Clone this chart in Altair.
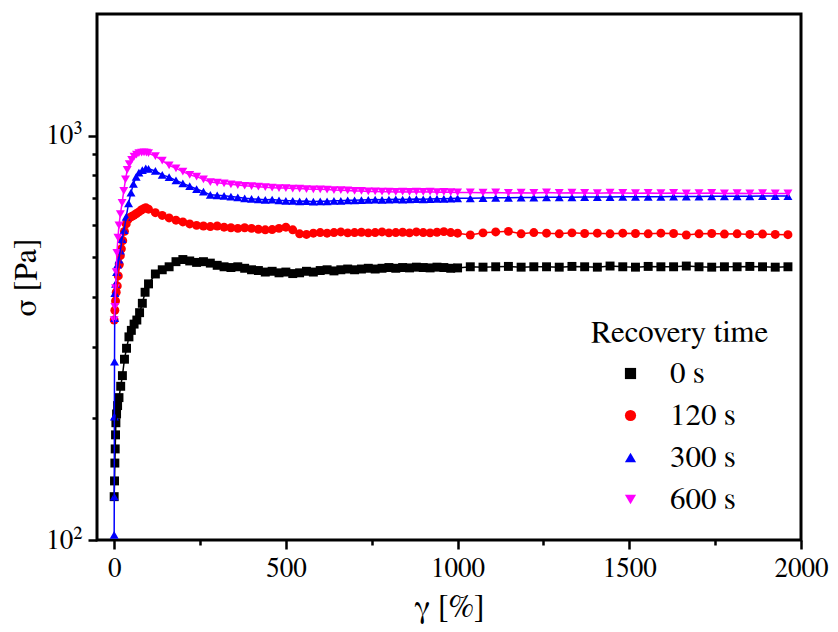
import altair as alt
import pandas as pd

# ---- data ----
series_order = ["0 s", "120 s", "300 s", "600 s"]
series_colors = ["#000000", "#ff0000", "#0000ff", "#ff00ff"]
series_shapes = ["square", "circle", "triangle-up", "triangle-down"]

gamma_mid = [100, 120, 140, 160, 180, 200, 220, 240, 260, 280, 300, 320, 340, 360, 380,
             400, 420, 440, 460, 480, 500, 520, 540, 560, 580, 600, 620, 640, 660, 680,
             700, 720, 740, 760, 780, 800, 820, 840, 860, 880, 900, 920, 940, 960, 980, 1000]
gamma_tail = [1037, 1074, 1111, 1148, 1185, 1222, 1259, 1296, 1333, 1370, 1407, 1444, 1481,
              1518, 1555, 1592, 1629, 1666, 1703, 1740, 1777, 1814, 1851, 1888, 1925, 1962]

# 0 s
g0_head = [0, 1, 2, 3, 4, 5, 7, 10, 14, 19, 24, 30, 36, 43, 50, 58, 66, 74, 82, 90]
s0_head = [128, 140, 155, 168, 182, 195, 205, 215, 225, 240, 255, 280, 298, 318, 330, 342, 350, 365, 385, 410]
s0_mid = [430, 455, 466, 474, 488, 494, 490, 486, 488, 484, 478, 474, 472, 474, 470,
          466, 464, 460, 462, 458, 460, 456, 458, 462, 460, 464, 466, 463, 466, 468,
          466, 468, 470, 468, 470, 472, 470, 472, 471, 473, 472, 471, 473, 472, 470, 471]
s0_tail = [474, 473, 474, 475, 473, 474, 474, 473, 475, 474, 473, 476, 474,
           473, 475, 474, 474, 476, 474, 473, 474, 474, 475, 474, 473, 474]

# 120 s
g120_head = [0, 2, 4, 6, 9, 12, 15, 18, 21, 25, 30, 35, 40, 46, 52, 58, 65, 72, 79, 86, 92]
s120_head = [350, 370, 390, 410, 425, 450, 480, 505, 525, 550, 580, 605, 620, 628, 632, 636, 642, 648, 655, 660, 664]
s120_mid = [658, 645, 635, 626, 618, 612, 605, 600, 598, 596, 598, 594, 592, 590, 592,
            590, 587, 585, 586, 590, 594, 585, 572, 570, 574, 576, 574, 576, 578, 575,
            576, 577, 575, 576, 578, 575, 576, 577, 575, 578, 576, 575, 577, 579, 576, 574]
s120_tail = [568, 575, 578, 580, 572, 576, 574, 572, 575, 573, 574, 572, 574,
             573, 572, 574, 573, 568, 572, 573, 571, 572, 570, 571, 570, 569]

# 300 s
g300_head = [0, 0.3, 0.6, 1, 1.5, 2, 4, 7, 10, 14, 18, 23, 29, 35, 42, 49, 56, 64, 72, 82, 92]
s300_head = [103, 128, 202, 276, 354, 408, 430, 460, 480, 494, 520, 555, 584, 630, 680, 723, 760, 791, 810, 822, 830]
s300_mid = [828, 818, 800, 790, 775, 762, 750, 738, 727, 714, 712, 710, 707, 704, 700,
            698, 696, 694, 695, 692, 690, 690, 688, 689, 687, 688, 688, 690, 690, 692,
            692, 693, 694, 695, 694, 695, 696, 695, 696, 697, 696, 697, 698, 698, 699, 700]
s300_tail = [700, 701, 702, 702, 703, 703, 704, 704, 704, 705, 705, 705, 706,
             706, 706, 706, 707, 707, 707, 708, 708, 708, 708, 709, 709, 709]

# 600 s
g600_head = [0, 2, 4, 6, 8, 11, 14, 18, 23, 28, 33, 38, 44, 51, 58, 65, 72, 80, 87, 94]
s600_head = [350, 377, 420, 460, 513, 560, 600, 640, 682, 730, 780, 823, 850, 872, 888, 898, 905, 908, 910, 908]
s600_mid = [905, 890, 868, 845, 830, 815, 800, 792, 780, 768, 765, 762, 758, 755, 752,
            750, 748, 746, 744, 742, 742, 740, 740, 738, 737, 737, 736, 734, 733, 732,
            730, 730, 728, 728, 727, 727, 726, 727, 726, 727, 726, 727, 725, 726, 725, 724]
s600_tail = [724, 723, 724, 722, 723, 722, 724, 722, 723, 722, 721, 723, 722,
             721, 722, 721, 722, 720, 721, 722, 720, 721, 720, 721, 720, 720]

series_data = [
    ("0 s", g0_head + gamma_mid + gamma_tail, s0_head + s0_mid + s0_tail),
    ("120 s", g120_head + gamma_mid + gamma_tail, s120_head + s120_mid + s120_tail),
    ("300 s", g300_head + gamma_mid + gamma_tail, s300_head + s300_mid + s300_tail),
    ("600 s", g600_head + gamma_mid + gamma_tail, s600_head + s600_mid + s600_tail),
]

rows = []
for k, (name, gs, ss) in enumerate(series_data):
    for g, s in zip(gs, ss):
        rows.append({"gamma": g, "sigma": s, "series": name, "k": k})
df = pd.DataFrame(rows)

FONT = "FreeSerif"
FS = 27        # tick labels
FS_TITLE = 32  # axis titles
FS_LEG = 31    # legend

x_enc = alt.X(
    "gamma:Q",
    scale=alt.Scale(domain=[-50, 2000], nice=False, zero=False),
    axis=alt.Axis(
        title="γ [%]",
        values=[0, 250, 500, 750, 1000, 1250, 1500, 1750, 2000],
        labelExpr="datum.value % 500 === 0 ? format(datum.value, 'd') : ''",
        tickSize={"condition": {"test": "datum.value % 500 === 0", "value": 9}, "value": 5},
        tickWidth=2.5,
        tickColor="black",
        domain=False,
        grid=False,
        labelFont=FONT,
        labelFontSize=FS,
        labelColor="black",
        labelPadding=6,
        labelFlush=False,
        labelOverlap=False,
        titleFont=FONT,
        titleFontSize=FS_TITLE,
        titleFontWeight="normal",
        titleColor="black",
        titlePadding=10,
    ),
)

y_enc = alt.Y(
    "sigma:Q",
    scale=alt.Scale(type="log", domain=[100, 2000], nice=False),
    axis=alt.Axis(
        title="σ [Pa]",
        values=[100, 200, 300, 400, 500, 600, 700, 800, 900, 1000],
        labelExpr="datum.value == 100 ? '10²' : (datum.value == 1000 ? '10³' : '')",
        tickSize={"condition": {"test": "datum.value == 100 || datum.value == 1000", "value": 9}, "value": 5},
        tickWidth=2.5,
        tickColor="black",
        domain=False,
        grid=False,
        labelFont=FONT,
        labelFontSize=FS,
        labelColor="black",
        labelPadding=6,
        labelFlush=False,
        labelOverlap=False,
        titleFont=FONT,
        titleFontSize=FS_TITLE,
        titleFontWeight="normal",
        titleColor="black",
        titlePadding=3,
    ),
)

color_scale = alt.Scale(domain=series_order, range=series_colors)
shape_scale = alt.Scale(domain=series_order, range=series_shapes)

legend = alt.Legend(
    title="Recovery time",
    orient="none",
    legendX=494,
    legendY=304,
    titleFont=FONT,
    titleFontSize=FS_LEG,
    titleFontWeight="normal",
    titleColor="black",
    titlePadding=9,
    labelFont=FONT,
    labelFontSize=FS_LEG,
    labelColor="black",
    labelOffset=24,
    symbolOffset=24,
    symbolSize=125,
    symbolStrokeWidth=0,
    rowPadding=10,
    padding=0,
)

points = alt.Chart(df).mark_point(filled=True, opacity=1, size=80, clip=True).encode(
    x=x_enc,
    y=y_enc,
    color=alt.Color("series:N", scale=color_scale, legend=legend),
    shape=alt.Shape("series:N", scale=shape_scale, legend=legend),
    order=alt.Order("k:Q"),
)

lines = alt.Chart(df).mark_line(strokeWidth=1.5, clip=True).encode(
    x=x_enc,
    y=y_enc,
    color=alt.Color("series:N", scale=color_scale, legend=None),
)

chart = alt.layer(points, lines).properties(
    width=704,
    height=526,
    autosize=alt.AutoSizeParams(type="none"),
    padding={"left": 89, "top": 6, "right": 29, "bottom": 84},
    background="white",
).configure_view(
    stroke="black",
    strokeWidth=3,
)

chart.save("out.html", embed_options={"renderer": "svg", "actions": False})
